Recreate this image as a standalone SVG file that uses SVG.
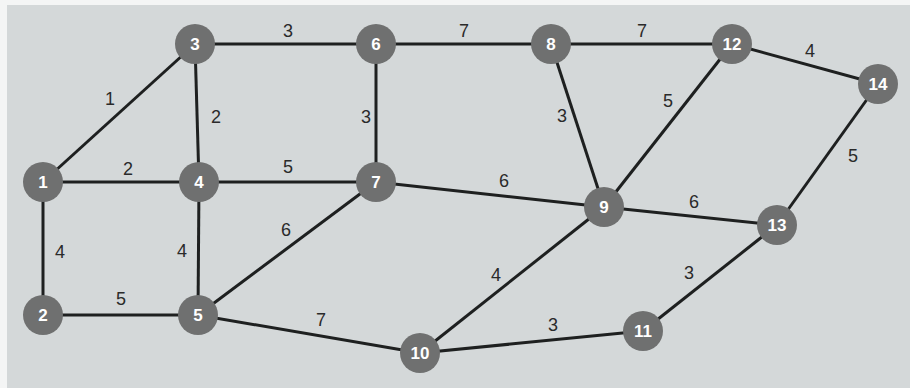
<svg xmlns="http://www.w3.org/2000/svg" width="910" height="388" viewBox="0 0 910 388">
<style>
.e{stroke:#1e2020;stroke-width:3;fill:none}
.n{fill:#6f7070}
.nt{font-family:"Liberation Sans",Arial,sans-serif;font-size:17px;font-weight:bold;fill:#ffffff;text-anchor:middle;dominant-baseline:central}
.w{font-family:"Liberation Sans",Arial,sans-serif;font-size:18px;fill:#2a2a2a;text-anchor:middle;dominant-baseline:central}
</style>
<rect x="0" y="0" width="910" height="388" fill="#f4f5f5"/>
<rect x="7" y="5" width="903" height="383" fill="#d4d8d9"/>
<g id="connectors">
<line class="e" x1="43" y1="182" x2="195" y2="44"/>
<line class="e" x1="43" y1="182" x2="199" y2="182"/>
<line class="e" x1="43" y1="182" x2="43" y2="315"/>
<line class="e" x1="195" y1="44" x2="199" y2="182"/>
<line class="e" x1="195" y1="44" x2="376" y2="44"/>
<line class="e" x1="199" y1="182" x2="376" y2="182"/>
<line class="e" x1="199" y1="182" x2="198" y2="315"/>
<line class="e" x1="43" y1="315" x2="198" y2="315"/>
<line class="e" x1="198" y1="315" x2="376" y2="182"/>
<line class="e" x1="198" y1="315" x2="420" y2="353"/>
<line class="e" x1="376" y1="44" x2="376" y2="182"/>
<line class="e" x1="376" y1="44" x2="551" y2="44"/>
<line class="e" x1="376" y1="182" x2="604" y2="207"/>
<line class="e" x1="551" y1="44" x2="732" y2="44"/>
<line class="e" x1="551" y1="44" x2="604" y2="207"/>
<line class="e" x1="732" y1="44" x2="604" y2="207"/>
<line class="e" x1="732" y1="44" x2="878" y2="84"/>
<line class="e" x1="878" y1="84" x2="777" y2="225"/>
<line class="e" x1="604" y1="207" x2="777" y2="225"/>
<line class="e" x1="604" y1="207" x2="420" y2="353"/>
<line class="e" x1="420" y1="353" x2="643" y2="331"/>
<line class="e" x1="643" y1="331" x2="777" y2="225"/>
</g>
<g id="weights">
<text class="w" x="110" y="99">1</text>
<text class="w" x="128" y="169">2</text>
<text class="w" x="216" y="117">2</text>
<text class="w" x="288" y="31">3</text>
<text class="w" x="366" y="117">3</text>
<text class="w" x="288" y="167">5</text>
<text class="w" x="464" y="31">7</text>
<text class="w" x="642" y="31">7</text>
<text class="w" x="562" y="116">3</text>
<text class="w" x="668" y="101">5</text>
<text class="w" x="810" y="51">4</text>
<text class="w" x="853" y="156">5</text>
<text class="w" x="504" y="181">6</text>
<text class="w" x="694" y="202">6</text>
<text class="w" x="60" y="252">4</text>
<text class="w" x="182" y="251">4</text>
<text class="w" x="286" y="230">6</text>
<text class="w" x="121" y="299">5</text>
<text class="w" x="321" y="320">7</text>
<text class="w" x="496" y="275">4</text>
<text class="w" x="553" y="325">3</text>
<text class="w" x="689" y="273">3</text>
</g>
<g id="node1"><circle class="n" cx="43" cy="182" r="20"/><text class="nt" x="43" y="182">1</text></g>
<g id="node2"><circle class="n" cx="43" cy="315" r="20"/><text class="nt" x="43" y="315">2</text></g>
<g id="node3"><circle class="n" cx="195" cy="44" r="20"/><text class="nt" x="195" y="44">3</text></g>
<g id="node4"><circle class="n" cx="199" cy="182" r="20"/><text class="nt" x="199" y="182">4</text></g>
<g id="node5"><circle class="n" cx="198" cy="315" r="20"/><text class="nt" x="198" y="315">5</text></g>
<g id="node6"><circle class="n" cx="376" cy="44" r="20"/><text class="nt" x="376" y="44">6</text></g>
<g id="node7"><circle class="n" cx="376" cy="182" r="20"/><text class="nt" x="376" y="182">7</text></g>
<g id="node8"><circle class="n" cx="551" cy="44" r="20"/><text class="nt" x="551" y="44">8</text></g>
<g id="node9"><circle class="n" cx="604" cy="207" r="20"/><text class="nt" x="604" y="207">9</text></g>
<g id="node10"><circle class="n" cx="420" cy="353" r="20"/><text class="nt" x="420" y="353">10</text></g>
<g id="node11"><circle class="n" cx="643" cy="331" r="20"/><text class="nt" x="643" y="331">11</text></g>
<g id="node12"><circle class="n" cx="732" cy="44" r="20"/><text class="nt" x="732" y="44">12</text></g>
<g id="node13"><circle class="n" cx="777" cy="225" r="20"/><text class="nt" x="777" y="225">13</text></g>
<g id="node14"><circle class="n" cx="878" cy="84" r="20"/><text class="nt" x="878" y="84">14</text></g>
</svg>
